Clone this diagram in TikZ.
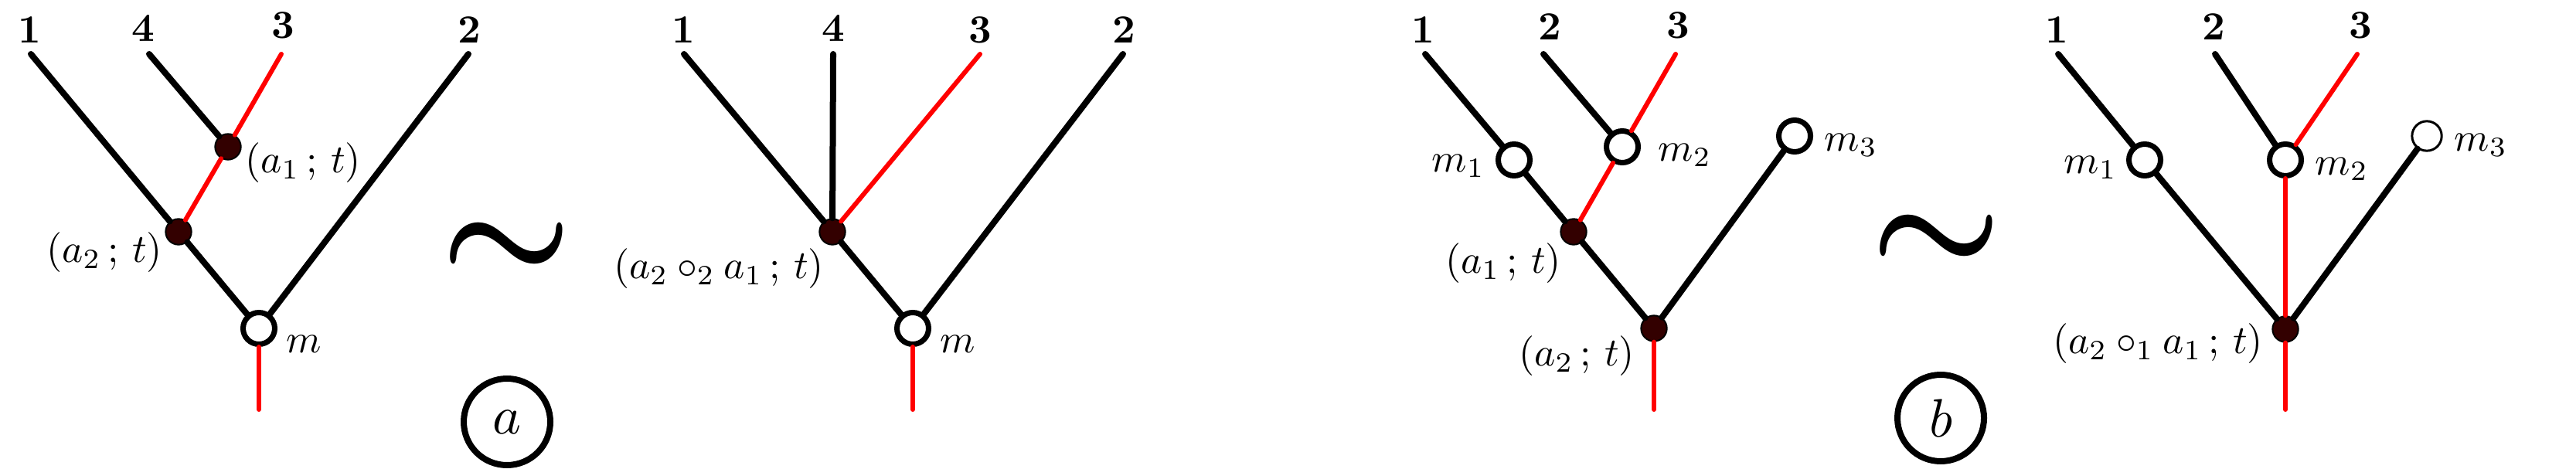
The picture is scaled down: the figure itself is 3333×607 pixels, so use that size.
\documentclass[tikz,border=0pt]{standalone}
\usepackage{amsmath,bm,graphicx}
\definecolor{darkred}{RGB}{51,0,0}
\newcommand\mylbl[1]{\scalebox{1.55}{$#1$}}
\begin{document}
\begin{tikzpicture}[x=0.3pt,y=-0.3pt,
  blk/.style={line width=2.4pt, line cap=round},
  rd/.style={line width=1.8pt, red, line cap=round},
  opn/.style={circle, draw, line width=2.1pt, fill=white, minimum size=12.3pt, inner sep=0pt},
  opnthin/.style={circle, draw, line width=0.9pt, fill=white, minimum size=11.5pt, inner sep=0pt},
  fil/.style={circle, draw, line width=0.6pt, fill=darkred, minimum size=10pt, inner sep=0pt},
  lbl/.style={inner sep=0pt},
  tld/.style={inner sep=0pt},
  cir/.style={circle, draw, line width=2.4pt, minimum size=33.6pt, inner sep=0pt}
]
\useasboundingbox (0,0) rectangle (3333,607);

% ---------- Tree 1 ----------
\coordinate (aL1) at (40,70);
\coordinate (aL4) at (193,70);
\coordinate (aL3) at (364,70);
\coordinate (aL2) at (606,70);
\coordinate (aR) at (335,530);
\node[fil] (aA1) at (295,190) {};
\node[fil] (aA2) at (231,300) {};
\node[opn] (am) at (335,425) {};
\draw[blk] (aL1) -- (aA2);
\draw[blk] (aL4) -- (aA1);
\draw[rd] (aL3) -- (aA1);
\draw[rd] (aA1) -- (aA2);
\draw[blk] (aA2) -- (am);
\draw[blk] (aL2) -- (am);
\draw[rd] (am) -- (aR);
\node[lbl] (an1) at (38,39) {\mylbl{\mathbf{1}}};
\node[lbl] (an4) at (185,37) {\mylbl{\mathbf{4}}};
\node[lbl] (an3) at (366,33) {\mylbl{\mathbf{3}}};
\node[lbl] (an2) at (607,39) {\mylbl{\mathbf{2}}};
\node[lbl] (alA1) at (392,211) {\mylbl{(a_1\,;\,t)}};
\node[lbl] (alA2) at (135,327) {\mylbl{(a_2\,;\,t)}};
\node[lbl] (alm) at (393,445) {\mylbl{m}};

\node[tld] (tilde1) at (655,325) {\scalebox{5.7}{$\bm{\sim}$}};
\node[cir] (ca) at (656,546) {\scalebox{2.1}{$a$}};

% ---------- Tree 2 ----------
\coordinate (bL1) at (885,70);
\coordinate (bL4) at (1078,70);
\coordinate (bL3) at (1268,70);
\coordinate (bL2) at (1453,70);
\coordinate (bR) at (1181,530);
\node[fil] (bB) at (1077,300) {};
\node[opn] (bm) at (1181,425) {};
\draw[blk] (bL1) -- (bB);
\draw[blk] (bL4) -- (bB);
\draw[rd] (bL3) -- (bB);
\draw[blk] (bB) -- (bm);
\draw[blk] (bL2) -- (bm);
\draw[rd] (bm) -- (bR);
\node[lbl] (bn1) at (884,39) {\mylbl{\mathbf{1}}};
\node[lbl] (bn4) at (1078,37) {\mylbl{\mathbf{4}}};
\node[lbl] (bn3) at (1268,39) {\mylbl{\mathbf{3}}};
\node[lbl] (bn2) at (1454,39) {\mylbl{\mathbf{2}}};
\node[lbl] (blB) at (930,348) {\mylbl{(a_2\circ_2 a_1\,;\,t)}};
\node[lbl] (blm) at (1239,445) {\mylbl{m}};

% ---------- Tree 3 ----------
\coordinate (cL1) at (1844,70);
\coordinate (cL2) at (1997,70);
\coordinate (cL3) at (2168,70);
\coordinate (cR) at (2140,530);
\node[opn] (cm1) at (1959,207) {};
\node[opn] (cm2) at (2099,190) {};
\node[opn] (cm3) at (2322,176) {};
\node[fil] (cA1) at (2036,300) {};
\node[fil] (cA2) at (2140,425) {};
\draw[blk] (cL1) -- (cm1);
\draw[blk] (cm1) -- (cA1);
\draw[blk] (cL2) -- (cm2);
\draw[rd] (cL3) -- (cm2);
\draw[rd] (cm2) -- (cA1);
\draw[blk] (cA1) -- (cA2);
\draw[blk] (cm3) -- (cA2);
\draw[rd] (cA2) -- (cR);
\node[lbl] (cn1) at (1841,39) {\mylbl{\mathbf{1}}};
\node[lbl] (cn2) at (2005,35) {\mylbl{\mathbf{2}}};
\node[lbl] (cn3) at (2171,33) {\mylbl{\mathbf{3}}};
\node[lbl] (clm1) at (1887,215) {\mylbl{m_1}};
\node[lbl] (clm2) at (2180,201) {\mylbl{m_2}};
\node[lbl] (clm3) at (2395,188) {\mylbl{m_3}};
\node[lbl] (clA1) at (1945,341) {\mylbl{(a_1\,;\,t)}};
\node[lbl] (clA2) at (2040,461) {\mylbl{(a_2\,;\,t)}};

\node[tld] (tilde2) at (2505,315) {\scalebox{5.7}{$\bm{\sim}$}};
\node[cir] (cb) at (2511,541) {\scalebox{2.1}{$b$}};

% ---------- Tree 4 ----------
\coordinate (dL1) at (2663,70);
\coordinate (dL2) at (2866,70);
\coordinate (dL3) at (3050,70);
\coordinate (dR) at (2957,530);
\node[opn] (dm1) at (2775,207) {};
\node[opn] (dm2) at (2957,207) {};
\node[opnthin] (dm3) at (3140,176) {};
\node[fil] (dC) at (2957,426) {};
\draw[blk] (dL1) -- (dm1);
\draw[blk] (dm1) -- (dC);
\draw[blk] (dL2) -- (dm2);
\draw[rd] (dL3) -- (dm2);
\draw[rd] (dm2) -- (dC);
\draw[blk] (dm3) -- (dC);
\draw[rd] (dC) -- (dR);
\node[lbl] (dn1) at (2661,39) {\mylbl{\mathbf{1}}};
\node[lbl] (dn2) at (2864,35) {\mylbl{\mathbf{2}}};
\node[lbl] (dn3) at (3054,33) {\mylbl{\mathbf{3}}};
\node[lbl] (dlm1) at (2705,217) {\mylbl{m_1}};
\node[lbl] (dlm2) at (3030,219) {\mylbl{m_2}};
\node[lbl] (dlm3) at (3210,188) {\mylbl{m_3}};
\node[lbl] (dlC) at (2792,445) {\mylbl{(a_2\circ_1 a_1\,;\,t)}};
\end{tikzpicture}
\end{document}
